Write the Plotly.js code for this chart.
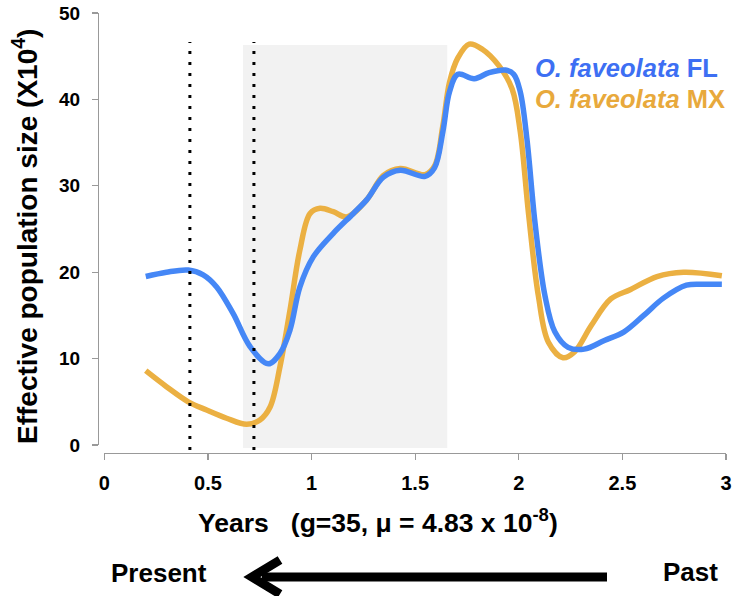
<!DOCTYPE html>
<html>
<head>
<meta charset="utf-8">
<script src="https://cdn.plot.ly/plotly-3.0.1.min.js"></script>
<style>html,body{margin:0;padding:0;background:#fff;}#chart{width:737px;height:596px;}</style>
</head>
<body>
<div id="chart"></div>
<script>
// ---- data ----
const flYears = [0.2, 0.30, 0.405, 0.477, 0.542, 0.622, 0.703, 0.791, 0.848, 0.896, 0.944, 1.009, 1.105, 1.202, 1.267, 1.347, 1.428, 1.548, 1.594, 1.634, 1.666, 1.706, 1.785, 1.857, 1.936, 1.976, 2.007, 2.039, 2.079, 2.127, 2.174, 2.238, 2.316, 2.413, 2.508, 2.603, 2.698, 2.809, 2.9, 2.98];
const flNe    = [19.5, 20.0, 20.25, 19.7, 18.3, 15.2, 11.4, 9.4, 10.6, 13.3, 18.3, 21.8, 24.5, 26.8, 28.4, 31.0, 31.8, 31.1, 32.1, 36.3, 40.9, 42.9, 42.4, 43.1, 43.4, 42.9, 40.9, 35.5, 25.6, 17.2, 13.1, 11.3, 11.1, 12.1, 13.1, 15.0, 17.0, 18.5, 18.6, 18.6];
const mxYears = [0.2, 0.30, 0.405, 0.494, 0.59, 0.687, 0.751, 0.8, 0.848, 0.896, 0.944, 0.993, 1.041, 1.105, 1.17, 1.267, 1.347, 1.428, 1.548, 1.594, 1.634, 1.666, 1.706, 1.761, 1.824, 1.904, 1.968, 2.007, 2.047, 2.095, 2.143, 2.214, 2.27, 2.349, 2.444, 2.54, 2.667, 2.795, 2.98];
const mxNe    = [8.6, 6.75, 5.0, 4.05, 3.1, 2.4, 2.9, 4.4, 9.1, 15.6, 22.6, 26.8, 27.4, 27.0, 26.4, 28.4, 31.2, 32.0, 31.3, 32.3, 37.0, 42.0, 44.8, 46.4, 45.8, 43.9, 41.2, 36.3, 26.8, 17.2, 11.9, 10.1, 10.8, 13.8, 16.9, 18.0, 19.5, 20.0, 19.6];
const shadedPeriod = [0.669, 1.655];
const dottedMarks = [0.413, 0.722];
const xTickVals = [0, 0.5, 1, 1.5, 2, 2.5, 3];
const xTickText = ["0", "0.5", "1", "1.5", "2", "2.5", "3"];
const yTickVals = [0, 10, 20, 30, 40, 50];

const BLUE = "#4587f6", ORANGE = "#ebb042";
const FONT = "Liberation Sans, Arial, Helvetica, sans-serif";

// layout geometry (pixels -> paper)
const L = 98, R = 11, T = 13, B = 143, WW = 737, HH = 596;
const PW = WW - L - R, PH = HH - T - B;
const px = v => (v - L) / PW;
const py = v => (HH - B - v) / PH;

const traces = [
  {x: mxYears, y: mxNe, mode: "lines", line: {color: ORANGE, width: 5.5, shape: "spline", smoothing: 1}, hoverinfo: "skip"},
  {x: flYears, y: flNe, mode: "lines", line: {color: BLUE, width: 5.5, shape: "spline", smoothing: 1}, hoverinfo: "skip"}
];

const shapes = [
  {type: "rect", xref: "x", yref: "paper", x0: shadedPeriod[0], x1: shadedPeriod[1], y0: py(448), y1: py(45),
   fillcolor: "#f2f2f2", line: {width: 0}, layer: "below"}
];
dottedMarks.forEach(d => shapes.push({type: "line", xref: "x", yref: "paper", x0: d, x1: d, y0: py(450), y1: py(42),
  line: {color: "#000", width: 3, dash: "3px,8px"}, layer: "above"}));
// arrow
shapes.push({type: "line", xref: "paper", yref: "paper", x0: px(262), x1: px(607), y0: py(577), y1: py(577),
  line: {color: "#000", width: 9}});
shapes.push({type: "path", xref: "paper", yref: "paper",
  path: `M ${px(280)} ${py(560)} L ${px(252)} ${py(577)} L ${px(280)} ${py(594)}`,
  line: {color: "#000", width: 9}});

const annotations = [
  {text: "<b>Effective population size (X10<sup>4</sup>)</b>", xref: "paper", yref: "paper", x: px(25), y: py(237),
   textangle: -90, showarrow: false, font: {family: FONT, size: 28, color: "#000"}, xanchor: "center", yanchor: "middle"},
  {text: "<b>Years   (g=35, μ = 4.83 x 10<sup>-8</sup>)</b>", xref: "paper", yref: "paper", x: px(378), y: py(521),
   showarrow: false, font: {family: FONT, size: 26.5, color: "#000"}, xanchor: "center", yanchor: "middle"},
  {text: "<b>Present</b>", xref: "paper", yref: "paper", x: px(159), y: py(573),
   showarrow: false, font: {family: FONT, size: 26, color: "#000"}, xanchor: "center", yanchor: "middle"},
  {text: "<b>Past</b>", xref: "paper", yref: "paper", x: px(690), y: py(572),
   showarrow: false, font: {family: FONT, size: 26, color: "#000"}, xanchor: "center", yanchor: "middle"},
  {text: "<b><i>O. faveolata</i> FL</b>", xref: "paper", yref: "paper", x: px(533), y: py(68),
   showarrow: false, font: {family: FONT, size: 25.5, color: "#3d6ff3"}, xanchor: "left", yanchor: "middle"},
  {text: "<b><i>O. faveolata</i> MX</b>", xref: "paper", yref: "paper", x: px(533), y: py(99),
   showarrow: false, font: {family: FONT, size: 25.5, color: "#e8a93c"}, xanchor: "left", yanchor: "middle"}
];

const layout = {
  width: WW, height: HH,
  margin: {l: L, r: R, t: T, b: B, pad: 0},
  paper_bgcolor: "#fff", plot_bgcolor: "rgba(0,0,0,0)",
  showlegend: false,
  xaxis: {range: [0, 3], domain: [(104.3 - L) / PW, 1], anchor: "free", position: 0,
    tickvals: xTickVals, ticktext: xTickText, ticks: "outside", ticklen: 6, tickcolor: "#999", tickwidth: 1.3,
    showline: true, linecolor: "#999", linewidth: 1.3, showgrid: false, zeroline: false,
    tickfont: {family: FONT, size: 20, color: "#000", weight: "bold"}, ticklabelstandoff: 6},
  yaxis: {range: [0, 50], domain: [(453 - 445) / PH, 1], anchor: "free", position: 0,
    tickvals: yTickVals, ticks: "outside", ticklen: 6, tickcolor: "#999", tickwidth: 1.3,
    showline: true, linecolor: "#999", linewidth: 1.3, showgrid: false, zeroline: false,
    tickfont: {family: FONT, size: 19, color: "#000", weight: "bold"}, ticklabelstandoff: 8},
  shapes: shapes,
  annotations: annotations
};

Plotly.newPlot("chart", traces, layout, {staticPlot: true});
</script>
</body>
</html>
